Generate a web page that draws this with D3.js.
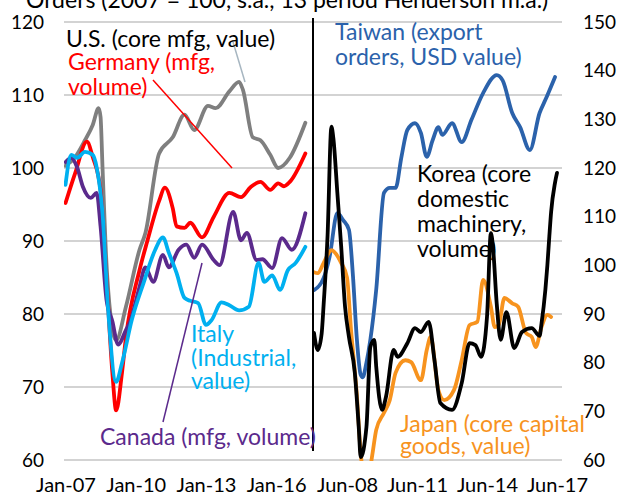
<!DOCTYPE html>
<html>
<head>
<meta charset="utf-8">
<script src="https://cdn.jsdelivr.net/npm/d3@7"></script>
<style>
  html, body { margin: 0; padding: 0; background: #fff; }
  svg { display: block; }
</style>
</head>
<body>
<svg id="chart" width="617" height="498"></svg>
<script>
// ---- data (monthly points, 2007 = 100) ----
const leftTicks = ["2007-01", "2010-01", "2013-01", "2016-01"];
const rightTicks = ["2008-06", "2011-06", "2014-06", "2017-06"];
const leftYTicks = [60, 70, 80, 90, 100, 110, 120];
const rightYTicks = [60, 70, 80, 90, 100, 110, 120, 130, 140, 150];

const usOrders = [
  ["2007-01", 100.3], ["2007-06", 101.5], ["2007-11", 103.8], ["2008-03", 105.9],
  ["2008-06", 108.2], ["2008-07", 107], ["2008-08", 100], ["2008-10", 87],
  ["2008-12", 80], ["2009-03", 76.4], ["2009-08", 81], ["2010-03", 88.8],
  ["2010-06", 91.1], ["2011-01", 102], ["2011-08", 104.2], ["2012-02", 107.3],
  ["2012-07", 105.2], ["2013-02", 108.5], ["2013-06", 108.2], ["2014-01", 110.5],
  ["2014-06", 111.8], ["2014-08", 110.7], ["2015-01", 104.2], ["2015-05", 103.8],
  ["2015-10", 101.8], ["2016-02", 100], ["2016-08", 101.4], ["2017-04", 106.2]
];
const germanyOrders = [
  ["2007-01", 95.2], ["2007-06", 99.3], ["2007-12", 103.6], ["2008-03", 101.5],
  ["2008-07", 97], ["2008-10", 85], ["2009-01", 72], ["2009-03", 66.8],
  ["2009-06", 72], ["2009-08", 76.8], ["2010-03", 86], ["2010-07", 90],
  ["2011-01", 95.5], ["2011-04", 97.3], ["2011-08", 94.5], ["2011-10", 92],
  ["2012-02", 91.8], ["2012-05", 92.5], ["2012-11", 90.5], ["2013-05", 93.3],
  ["2014-01", 96.6], ["2014-07", 96], ["2014-12", 97.4], ["2015-05", 98.1],
  ["2015-10", 97], ["2016-02", 97.9], ["2016-05", 97.5], ["2016-08", 98.1],
  ["2017-04", 102]
];
const canadaOrders = [
  ["2007-01", 100.8], ["2007-04", 101.4], ["2007-07", 100.1], ["2007-10", 97.4],
  ["2008-02", 95.9], ["2008-05", 96.6], ["2008-07", 92], ["2008-10", 82],
  ["2009-01", 79], ["2009-04", 75.8], ["2009-08", 77.8], ["2009-10", 78.8],
  ["2010-03", 83.7], ["2010-06", 86.4], ["2010-10", 84.4], ["2011-03", 88.1],
  ["2011-06", 86.4], ["2011-11", 88.8], ["2012-03", 89.5], ["2012-07", 87.7],
  ["2012-11", 89.5], ["2013-05", 87.4], ["2013-08", 86.7], ["2014-03", 94],
  ["2014-07", 90.1], ["2014-10", 91.1], ["2015-03", 87.4], ["2015-06", 87.5],
  ["2015-11", 86.3], ["2016-04", 90.4], ["2016-09", 88.8], ["2017-04", 93.8]
];
const italyOrders = [
  ["2007-01", 97.7], ["2007-04", 101.8], ["2007-07", 101.4], ["2007-11", 102.2],
  ["2008-03", 101.8], ["2008-05", 100.1], ["2008-08", 93.8], ["2008-11", 80],
  ["2009-03", 70.7], ["2009-06", 73.3], ["2009-11", 79.2], ["2010-05", 84.2],
  ["2010-11", 88.8], ["2011-03", 90.5], ["2011-06", 88.4], ["2011-10", 85.6],
  ["2012-02", 82.2], ["2012-05", 81.8], ["2012-09", 81.5], ["2013-01", 78.5],
  ["2013-04", 79.2], ["2013-09", 81.6], ["2014-01", 81.2], ["2014-06", 80.5],
  ["2014-11", 81], ["2015-04", 87], ["2015-07", 84.4], ["2015-11", 85.3],
  ["2016-03", 83.3], ["2016-07", 86], ["2016-11", 87], ["2017-04", 89.2]
];

const taiwanOrders = [
  ["2007-01", 94.9], ["2007-06", 97.4], ["2007-09", 101.7], ["2008-01", 110.7],
  ["2008-04", 109.3], ["2008-07", 107.3], ["2008-09", 98], ["2008-11", 85],
  ["2009-01", 77.5], ["2009-02", 77], ["2009-04", 80], ["2009-06", 84.7],
  ["2009-09", 95], ["2010-01", 114.9], ["2010-04", 115.9], ["2010-07", 115.9],
  ["2010-10", 122.3], ["2011-01", 127.8], ["2011-05", 129.2], ["2011-08", 127.2],
  ["2011-11", 122.3], ["2012-02", 125.7], ["2012-05", 128.4], ["2012-07", 126.8],
  ["2012-12", 129.2], ["2013-05", 125.3], ["2013-10", 129.9], ["2014-04", 135.4],
  ["2014-11", 139.1], ["2015-02", 138], ["2015-07", 131.3], ["2015-11", 128.4],
  ["2016-04", 123.7], ["2016-09", 131.3], ["2016-12", 134], ["2017-05", 138.7]
];
const koreaOrders = [
  ["2007-01", 86.1], ["2007-03", 82.6], ["2007-05", 86], ["2007-06", 92],
  ["2007-08", 106], ["2007-10", 128.5], ["2007-11", 126], ["2008-01", 115],
  ["2008-03", 104], ["2008-05", 91.5], ["2008-07", 85.3], ["2008-10", 77.9],
  ["2008-12", 66.8], ["2009-01", 60.6], ["2009-04", 66.8], ["2009-06", 83.2],
  ["2009-08", 84.7], ["2009-09", 79.2], ["2009-12", 70.3], ["2010-02", 73],
  ["2010-06", 82.6], ["2010-08", 81.2], ["2011-01", 84], ["2011-05", 87.1],
  ["2011-08", 86.3], ["2011-12", 88.4], ["2012-03", 80.5], ["2012-06", 71.7],
  ["2012-12", 70.3], ["2013-05", 75.8], ["2013-09", 84], ["2013-12", 83.6],
  ["2014-03", 81.2], ["2014-06", 89.4], ["2014-08", 106.6], ["2014-09", 104],
  ["2014-11", 92], ["2015-01", 84.7], ["2015-04", 90.4], ["2015-08", 83],
  ["2015-12", 86.3], ["2016-05", 87.1], ["2016-09", 85.5], ["2016-10", 88],
  ["2016-12", 95], ["2017-01", 100], ["2017-02", 106], ["2017-03", 111],
  ["2017-05", 117], ["2017-06", 119]
];
const japanOrders = [
  ["2007-01", 98.6], ["2007-03", 98.4], ["2007-06", 100.5], ["2007-10", 103.1],
  ["2008-03", 100.5], ["2008-06", 97.5], ["2008-08", 87], ["2008-11", 73.5],
  ["2009-01", 61.5], ["2009-03", 56], ["2009-05", 56.5], ["2009-07", 61],
  ["2009-09", 66.2], ["2010-01", 69.7], ["2010-04", 72.3], ["2010-07", 77.9],
  ["2010-12", 80.5], ["2011-03", 80.1], ["2011-08", 76.4], ["2011-11", 82.6],
  ["2012-01", 85.3], ["2012-05", 74.4], ["2012-08", 72.3], ["2013-01", 74.4],
  ["2013-05", 80.5], ["2013-09", 87.7], ["2014-01", 88.4], ["2014-04", 97],
  ["2014-08", 91.5], ["2014-10", 87.3], ["2014-12", 87.7], ["2015-03", 93.3],
  ["2015-07", 92.2], ["2015-10", 91.5], ["2016-02", 86.1], ["2016-05", 85.3],
  ["2016-07", 83.2], ["2016-10", 87.3], ["2017-01", 89.8], ["2017-03", 89.4]
];

// ---- layout ----
const FONT = "Lato, 'Open Sans', sans-serif";
const FS = 23;      // annotations + title
const AXIS_FS = 19; // y tick labels
const XAXIS_FS = 20;
const parse = d3.timeParse("%Y-%m");
const fmt = d3.timeFormat("%b-%y");
const svg = d3.select("#chart").style("font-family", FONT);

const plotTop = 22, plotBottom = 460, gridX0 = 64, split = 313, gridX1 = 562;

const xLeft = d3.scaleTime()
  .domain([parse("2007-01"), parse("2017-07")])
  .range([65.5, 65.5 + 10.5 * 23.4]);
const xRight = d3.scaleTime()
  .domain([parse("2007-01"), parse("2017-08")])
  .range([314, 314 + (10 + 7 / 12) * 23.33]);
const yLeft = d3.scaleLinear().domain([60, 120]).range([plotBottom, plotTop]);
const yRight = d3.scaleLinear().domain([60, 150]).range([plotBottom, plotTop]);

// title, cut off at the top like the source
svg.append("text")
  .attr("x", 26).attr("y", 8)
  .attr("font-size", FS).attr("fill", "#000")
  .text("Orders (2007 = 100, s.a., 13 period Henderson m.a.)");

// gridlines
svg.append("g").selectAll("line")
  .data(leftYTicks)
  .join("line")
  .attr("x1", gridX0).attr("x2", gridX1)
  .attr("y1", d => yLeft(d)).attr("y2", d => yLeft(d))
  .attr("stroke", "#c4c4c4").attr("stroke-width", 1.6);

// y axes (labels only)
const gyL = svg.append("g").attr("transform", "translate(44,0)")
  .call(d3.axisLeft(yLeft).tickValues(leftYTicks).tickSize(0).tickPadding(0));
const gyR = svg.append("g").attr("transform", "translate(583,0)")
  .call(d3.axisRight(yRight).tickValues(rightYTicks).tickSize(0).tickPadding(0));

// x axes (labels only)
const gxL = svg.append("g").attr("transform", `translate(0,${plotBottom + 18})`)
  .call(d3.axisBottom(xLeft).tickValues(leftTicks.map(parse)).tickFormat(fmt).tickSize(0).tickPadding(0));
const gxR = svg.append("g").attr("transform", `translate(0,${plotBottom + 18})`)
  .call(d3.axisBottom(xRight).tickValues(rightTicks.map(parse)).tickFormat(fmt).tickSize(0).tickPadding(0));

[gyL, gyR].forEach(g => {
  g.select(".domain").remove();
  g.selectAll("text").attr("font-family", FONT).attr("font-size", AXIS_FS).attr("fill", "#000");
});
[gxL, gxR].forEach(g => {
  g.select(".domain").remove();
  g.selectAll("text").attr("font-family", FONT).attr("font-size", XAXIS_FS).attr("fill", "#000")
    .attr("dy", "0.71em");
});

// clip regions for both panels
const defs = svg.append("defs");
defs.append("clipPath").attr("id", "clipL").append("rect")
  .attr("x", gridX0).attr("y", 10).attr("width", split - gridX0).attr("height", plotBottom + 1 - 10);
defs.append("clipPath").attr("id", "clipR").append("rect")
  .attr("x", split).attr("y", 10).attr("width", gridX1 + 10 - split).attr("height", plotBottom + 1 - 10);

function drawSeries(data, x, y, color, clip) {
  const line = d3.line()
    .x(d => x(parse(d[0])))
    .y(d => y(d[1]))
    .curve(d3.curveMonotoneX);
  svg.append("path")
    .datum(data)
    .attr("clip-path", `url(#${clip})`)
    .attr("d", line)
    .attr("fill", "none")
    .attr("stroke", color)
    .attr("stroke-width", 3.8)
    .attr("stroke-linejoin", "round")
    .attr("stroke-linecap", "round");
}

drawSeries(usOrders, xLeft, yLeft, "#7f7f7f", "clipL");
drawSeries(germanyOrders, xLeft, yLeft, "#ff0000", "clipL");
drawSeries(canadaOrders, xLeft, yLeft, "#5b2a8c", "clipL");
drawSeries(italyOrders, xLeft, yLeft, "#00b0f0", "clipL");

drawSeries(taiwanOrders, xRight, yRight, "#2b62ab", "clipR");
drawSeries(japanOrders, xRight, yRight, "#f7931e", "clipR");
drawSeries(koreaOrders, xRight, yRight, "#000000", "clipR");

// divider between the two panels
svg.append("line")
  .attr("x1", split).attr("x2", split)
  .attr("y1", 18).attr("y2", 451)
  .attr("stroke", "#000").attr("stroke-width", 2);

// leader lines
const leaders = [
  { x1: 233, y1: 42, x2: 245, y2: 82, color: "#a7b6c1" },
  { x1: 153, y1: 80, x2: 232, y2: 168, color: "#ff0000" },
  { x1: 163, y1: 422, x2: 202, y2: 263, color: "#5b2a8c" }
];
svg.append("g").selectAll("line")
  .data(leaders)
  .join("line")
  .attr("x1", d => d.x1).attr("y1", d => d.y1)
  .attr("x2", d => d.x2).attr("y2", d => d.y2)
  .attr("stroke", d => d.color).attr("stroke-width", 1.5);

// series labels
const labels = [
  { x: 66, y: 47, color: "#000", lines: ["U.S. (core mfg, value)"], gap: 0 },
  { x: 68, y: 70, color: "#ff0000", lines: ["Germany (mfg,", "volume)"], gap: 25 },
  { x: 191, y: 342, color: "#00b0f0", lines: ["Italy", "(Industrial,", "value)"], gap: 23.5 },
  { x: 100, y: 445, color: "#5b2a8c", lines: ["Canada (mfg, volume)"], gap: 0 },
  { x: 335, y: 40, color: "#2b62ab", lines: ["Taiwan (export", "orders, USD value)"], gap: 25 },
  { x: 417, y: 182, color: "#000", lines: ["Korea (core", "domestic", "machinery,", "volume)"], gap: 25 },
  { x: 400, y: 432, color: "#f7931e", lines: ["Japan (core capital", "goods, value)"], gap: 22 }
];
labels.forEach(l => {
  svg.append("text")
    .attr("font-size", FS)
    .attr("fill", l.color)
    .selectAll("tspan")
    .data(l.lines)
    .join("tspan")
    .attr("x", l.x)
    .attr("y", (_d, i) => l.y + i * l.gap)
    .text(d => d);
});
</script>
</body>
</html>
